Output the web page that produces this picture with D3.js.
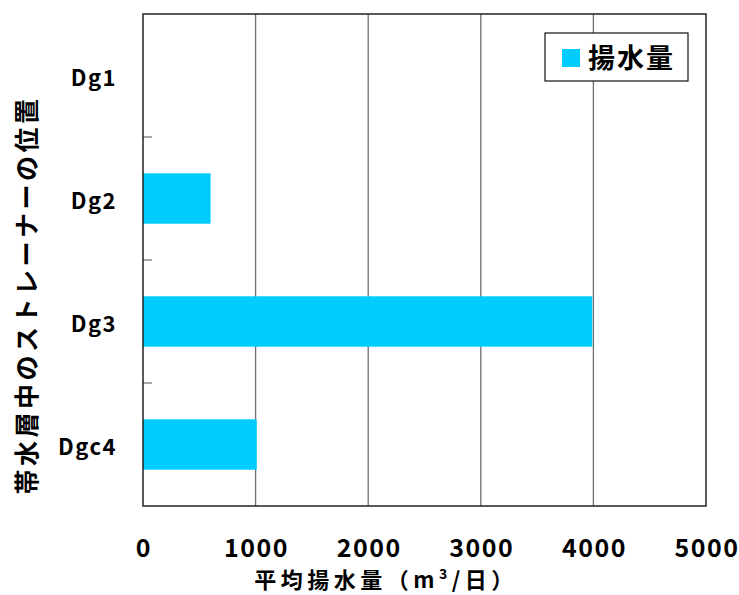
<!DOCTYPE html>
<html>
<head>
<meta charset="utf-8">
<script src="https://cdn.jsdelivr.net/npm/d3@7"></script>
<style>
  body { margin: 0; background: #fff; overflow: hidden; }
  svg { display: block; }
  svg text { font-family: "Noto Sans CJK JP", sans-serif; font-weight: bold; fill: #000; }
</style>
</head>
<body>
<svg id="chart"></svg>
<script>
// categories and values
var categories = ["Dg1", "Dg2", "Dg3", "Dgc4"];
var pumping = [0, 600, 3990, 1010];
var xTicks = [0, 1000, 2000, 3000, 4000, 5000];
var seriesName = "揚水量";

var outerWidth = 739, outerHeight = 595;
var margins = { left: 143, top: 14, right: 33, bottom: 89 };
var innerWidth = outerWidth - margins.left - margins.right;
var innerHeight = outerHeight - margins.top - margins.bottom;

var svg = d3.select("svg#chart")
  .attr("width", outerWidth)
  .attr("height", outerHeight);

var g = svg.append("g")
  .attr("transform", "translate(" + margins.left + "," + margins.top + ")");

var xScale = d3.scaleLinear().domain([0, 5000]).range([0, innerWidth]);
var yScale = d3.scaleBand().domain(categories).range([0, innerHeight]).paddingInner(0.59).paddingOuter(0.295);
var bandScale = d3.scaleBand().domain(categories).range([0, innerHeight]);

// grid lines
g.selectAll("line.grid")
  .data(xTicks.slice(1, -1))
  .enter().append("line")
  .attr("class", "grid")
  .attr("x1", d => xScale(d)).attr("x2", d => xScale(d))
  .attr("y1", 0).attr("y2", innerHeight)
  .attr("stroke", "#6e6e6e").attr("stroke-width", 1.3);

// bars
g.selectAll("rect.bar")
  .data(pumping)
  .enter().append("rect")
  .attr("class", "bar")
  .attr("x", 0)
  .attr("y", (d, i) => yScale(categories[i]))
  .attr("width", d => xScale(d))
  .attr("height", yScale.bandwidth())
  .attr("fill", "#00ccff");

// inner ticks on the left between categories
g.selectAll("line.ytick")
  .data(categories.slice(1))
  .enter().append("line")
  .attr("class", "ytick")
  .attr("x1", 0).attr("x2", 9)
  .attr("y1", d => bandScale(d)).attr("y2", d => bandScale(d))
  .attr("stroke", "#777").attr("stroke-width", 1.3);

// frame
g.append("rect")
  .attr("x", 0).attr("y", 0)
  .attr("width", innerWidth).attr("height", innerHeight)
  .attr("fill", "none").attr("stroke", "#222").attr("stroke-width", 1.5);

// category labels (svg coords)
svg.selectAll("text.ylab")
  .data(categories)
  .enter().append("text")
  .attr("class", "ylab")
  .attr("x", margins.left - 26)
  .attr("y", d => margins.top + bandScale(d) + bandScale.bandwidth() / 2 + 3)
  .attr("dy", "0.35em")
  .attr("text-anchor", "end")
  .style("font-size", "22px")
  .style("letter-spacing", "1.5px")
  .text(d => d);

// x tick labels (svg coords)
svg.selectAll("text.xlab")
  .data(xTicks)
  .enter().append("text")
  .attr("class", "xlab")
  .attr("x", d => margins.left + xScale(d) + 1)
  .attr("y", margins.top + innerHeight + 42)
  .attr("dy", "0.35em")
  .attr("text-anchor", "middle")
  .style("font-size", "25px")
  .style("letter-spacing", "1.5px")
  .text(d => d);

// x axis title
var xt = svg.append("text")
  .attr("x", 386)
  .attr("y", 580)
  .attr("dy", "0.35em")
  .attr("text-anchor", "middle")
  .style("font-size", "22px")
  .style("letter-spacing", "4.5px");
xt.append("tspan").text("平均揚水量（m");
xt.append("tspan").attr("dy", -9).style("font-size", "14px").text("3");
xt.append("tspan").attr("dy", 9).text("/日）");

// y axis title
svg.append("text")
  .attr("transform", "translate(27," + 295 + ") rotate(-90)")
  .attr("dy", "0.35em")
  .attr("text-anchor", "middle")
  .style("font-size", "25px")
  .style("letter-spacing", "3.5px")
  .text("帯水層中のストレーナーの位置");

// legend
var legend = svg.append("g").attr("transform", "translate(545,33)");
legend.append("rect")
  .attr("width", 143).attr("height", 48)
  .attr("fill", "#fff").attr("stroke", "#111").attr("stroke-width", 1.2);
legend.append("rect")
  .attr("x", 17).attr("y", 16).attr("width", 18).attr("height", 18)
  .attr("fill", "#00ccff");
legend.append("text")
  .attr("x", 43).attr("y", 26)
  .attr("dy", "0.35em")
  .style("font-size", "27px")
  .style("letter-spacing", "2px")
  .text(seriesName);
</script>
</body>
</html>
